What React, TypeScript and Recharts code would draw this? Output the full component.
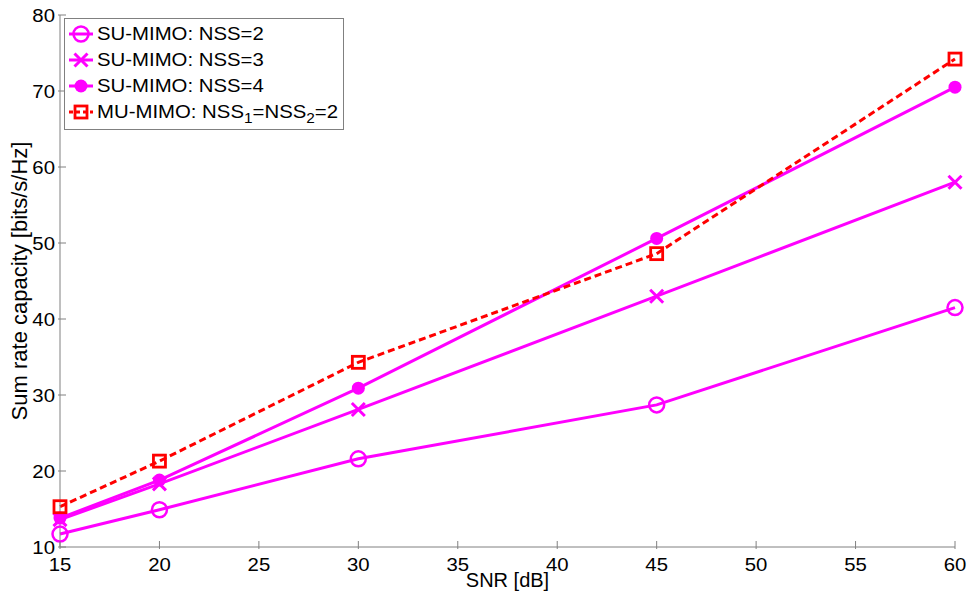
import React from "react";
import { LineChart, Line, XAxis, YAxis, Legend } from "recharts";

const snrDb = [15, 20, 30, 45, 60];
const suNss2 = [11.7, 14.9, 21.6, 28.7, 41.5];
const suNss3 = [13.6, 18.3, 28.1, 43.0, 58.0];
const suNss4 = [13.8, 18.8, 30.9, 50.6, 70.5];
const muNss22 = [15.3, 21.3, 34.3, 48.6, 74.2];

const xTicks = [15, 20, 25, 30, 35, 40, 45, 50, 55, 60];
const yTicks = [10, 20, 30, 40, 50, 60, 70, 80];

const seriesNames = [
  "SU-MIMO: NSS=2",
  "SU-MIMO: NSS=3",
  "SU-MIMO: NSS=4",
  "MU-MIMO: NSS_1=NSS_2=2",
];

const data = snrDb.map((s, i) => ({
  snr: s,
  su2: suNss2[i],
  su3: suNss3[i],
  su4: suNss4[i],
  mu: muNss22[i],
}));

const MAGENTA = "#ff00ff";
const RED = "#ff0000";
const AXIS = "#808080";
const FONT = "'Liberation Sans', Arial, Helvetica, sans-serif";

// markers, shared by the lines and the legend
const OpenCircle = ({ cx, cy }: any) => (
  <circle cx={cx} cy={cy} r={7.5} fill="none" stroke={MAGENTA} strokeWidth={2.5} />
);
const Cross = ({ cx, cy }: any) => {
  const d = 6.5;
  return (
    <path
      d={`M${cx - d},${cy - d}L${cx + d},${cy + d}M${cx - d},${cy + d}L${cx + d},${cy - d}`}
      stroke={MAGENTA}
      strokeWidth={3}
      fill="none"
    />
  );
};
const FilledDot = ({ cx, cy }: any) => <circle cx={cx} cy={cy} r={6.5} fill={MAGENTA} stroke="none" />;
const Square = ({ cx, cy }: any) => (
  <rect x={cx - 6} y={cy - 6} width={12} height={12} fill="none" stroke={RED} strokeWidth={2.8} />
);

const series = [
  { key: "su2", color: MAGENTA, dash: undefined, Marker: OpenCircle },
  { key: "su3", color: MAGENTA, dash: undefined, Marker: Cross },
  { key: "su4", color: MAGENTA, dash: undefined, Marker: FilledDot },
  { key: "mu", color: RED, dash: "7 4", Marker: Square },
];

// "NSS_1" -> NSS<sub>1</sub>
function withSubs(label: string) {
  const parts = label.split(/_(\d)/);
  return parts.map((p, i) =>
    i % 2 === 1 ? (
      <sub key={i} style={{ fontSize: 14, verticalAlign: -5, lineHeight: 0 }}>
        {p}
      </sub>
    ) : (
      <span key={i}>{p}</span>
    )
  );
}

function LegendBox() {
  return (
    <div
      style={{
        width: 280,
        height: 112,
        boxSizing: "border-box",
        border: `1px solid ${AXIS}`,
        background: "#fff",
        paddingTop: 2,
        fontFamily: FONT,
      }}
    >
      {series.map((s, i) => (
        <div key={s.key} style={{ height: 26, display: "flex", alignItems: "center" }}>
          <svg width={32} height={22} style={{ display: "block" }}>
            <line x1={4} y1={11} x2={28} y2={11} stroke={s.color} strokeWidth={3} strokeDasharray={s.dash ? "4 3" : undefined} />
            <s.Marker cx={16} cy={11} />
          </svg>
          <span
            style={{
              display: "inline-block",
              fontSize: 18.5,
              color: "#000",
              whiteSpace: "nowrap",
              transform: "scaleX(1.1)",
              transformOrigin: "left center",
              lineHeight: "20px",
            }}
          >
            {withSubs(seriesNames[i])}
          </span>
        </div>
      ))}
    </div>
  );
}

const BottomTick = ({ x, y, payload }: any) => (
  <g>
    <line x1={x} y1={y} x2={x} y2={y - 8} stroke={AXIS} />
    <text
      transform={`translate(${x},${y + 22}) scale(1.1,1)`}
      textAnchor="middle"
      fontSize={18.5}
      fontFamily={FONT}
      fill="#000"
    >
      {payload.value}
    </text>
  </g>
);
const TopTick = ({ x, y }: any) => <line x1={x} y1={y} x2={x} y2={y + 8} stroke={AXIS} />;
const LeftTick = ({ x, y, payload }: any) => (
  <g>
    <line x1={x} y1={y} x2={x + 8} y2={y} stroke={AXIS} />
    <text
      transform={`translate(${x - 3},${y + 6.5}) scale(1.1,1)`}
      textAnchor="end"
      fontSize={18.5}
      fontFamily={FONT}
      fill="#000"
    >
      {payload.value}
    </text>
  </g>
);
const RightTick = ({ x, y }: any) => <line x1={x} y1={y} x2={x - 8} y2={y} stroke={AXIS} />;

export default function App() {
  return (
    <div style={{ position: "absolute", left: 0, top: 0, background: "#fff" }}>
      <LineChart width={971} height={599} data={data} margin={{ top: 15, right: 16, bottom: 0, left: 0 }}>
        <XAxis
          dataKey="snr"
          type="number"
          domain={[15, 60]}
          ticks={xTicks}
          interval={0}
          height={52}
          tickSize={0}
          tickLine={false}
          tick={BottomTick}
          axisLine={{ stroke: AXIS }}
          label={{
            value: "SNR [dB]",
            position: "insideBottom",
            offset: 12,
            style: { fontSize: 20, fontFamily: FONT, fill: "#000" },
          }}
        />
        <XAxis
          xAxisId="top"
          orientation="top"
          dataKey="snr"
          type="number"
          domain={[15, 60]}
          ticks={xTicks}
          interval={0}
          height={0}
          tickSize={0}
          tickLine={false}
          tick={TopTick}
          axisLine={{ stroke: AXIS }}
        />
        <YAxis
          type="number"
          domain={[10, 80]}
          ticks={yTicks}
          interval={0}
          width={60}
          tickSize={0}
          tickLine={false}
          tick={LeftTick}
          axisLine={{ stroke: AXIS }}
          label={{
            value: "Sum rate capacity [bits/s/Hz]",
            angle: -90,
            position: "insideLeft",
            offset: 19,
            style: { fontSize: 22, fontFamily: FONT, fill: "#000", textAnchor: "middle" },
          }}
        />
        <YAxis
          yAxisId="right"
          orientation="right"
          type="number"
          domain={[10, 80]}
          ticks={yTicks}
          interval={0}
          width={0}
          tickSize={0}
          tickLine={false}
          tick={RightTick}
          axisLine={{ stroke: "#a0a0a0" }}
        />
        {series.map((s) => (
          <Line
            key={s.key}
            dataKey={s.key}
            type="linear"
            stroke={s.color}
            strokeWidth={3}
            strokeDasharray={s.dash}
            dot={(p: any) => <s.Marker key={p.index} cx={p.cx} cy={p.cy} />}
            activeDot={false}
            isAnimationActive={false}
          />
        ))}
        <Legend
          layout="vertical"
          align="center"
          verticalAlign="middle"
          content={() => <LegendBox />}
          wrapperStyle={{ left: 64, top: 18, width: 280, height: 112 }}
        />
      </LineChart>
    </div>
  );
}
